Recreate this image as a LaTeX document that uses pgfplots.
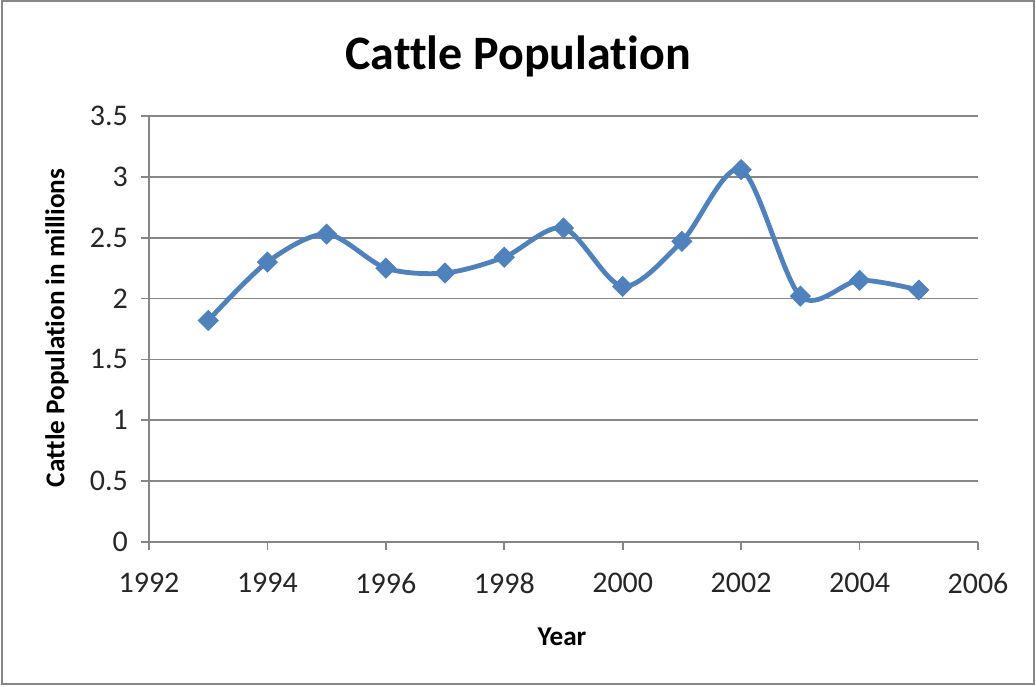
\documentclass[border=0pt]{standalone}
\usepackage{pgfplots}
\pgfplotsset{compat=1.18}
\usepackage{fontspec}
\setmainfont{Carlito}[Ligatures=NoCommon]
\definecolor{exblue}{RGB}{79,129,189}
\definecolor{axgray}{RGB}{134,134,134}
\begin{document}
\begin{tikzpicture}[x=0.5pt,y=0.5pt]
\useasboundingbox (-149,-144) rectangle (887,542);
\draw[axgray, line width=1pt] (-147,-142) rectangle (885,541);
\begin{axis}[
  at={(0,0)}, anchor=origin,
  scale only axis, width=414.5pt, height=213pt,
  xmin=1992, xmax=2006, ymin=0, ymax=3.5,
  xtick={1992,1994,...,2006}, ytick={0,0.5,...,3.5},
  axis x line=bottom, axis y line=left,
  axis line style={axgray, line width=0.8pt, -},
  tick style={axgray, line width=0.8pt},
  tick align=outside, major tick length=4pt,
  ymajorgrids, grid style={axgray, line width=0.8pt},
  /pgf/number format/assume math mode=true,
  /pgf/number format/1000 sep={},
  /pgf/number format/fixed,
  tick label style={font=\fontsize{15}{17}\selectfont, text=black!85},
  xticklabel style={yshift=-8pt},
  yticklabel style={xshift=-3pt},
  clip=false,
]
\addplot[exblue, line width=2.4pt, smooth, mark=square*, mark size=3.5pt,
  mark options={solid, fill=exblue, draw=exblue, line width=0.5pt, rotate=45}]
  coordinates {
  (1993,1.82) (1994,2.30) (1995,2.53) (1996,2.25) (1997,2.21) (1998,2.34)
  (1999,2.58) (2000,2.10) (2001,2.47) (2002,3.06) (2003,2.02) (2004,2.15) (2005,2.07)
  };
\end{axis}
\node[font=\fontsize{24}{28}\selectfont\bfseries, anchor=base] at (369,472) {Cattle Population};
\node[font=\fontsize{13.6}{16}\selectfont\bfseries, rotate=90] at (-92,214) {Cattle Population in millions};
\node[font=\fontsize{13.6}{16}\selectfont\bfseries] at (413,-95) {Year};
\end{tikzpicture}
\end{document}
